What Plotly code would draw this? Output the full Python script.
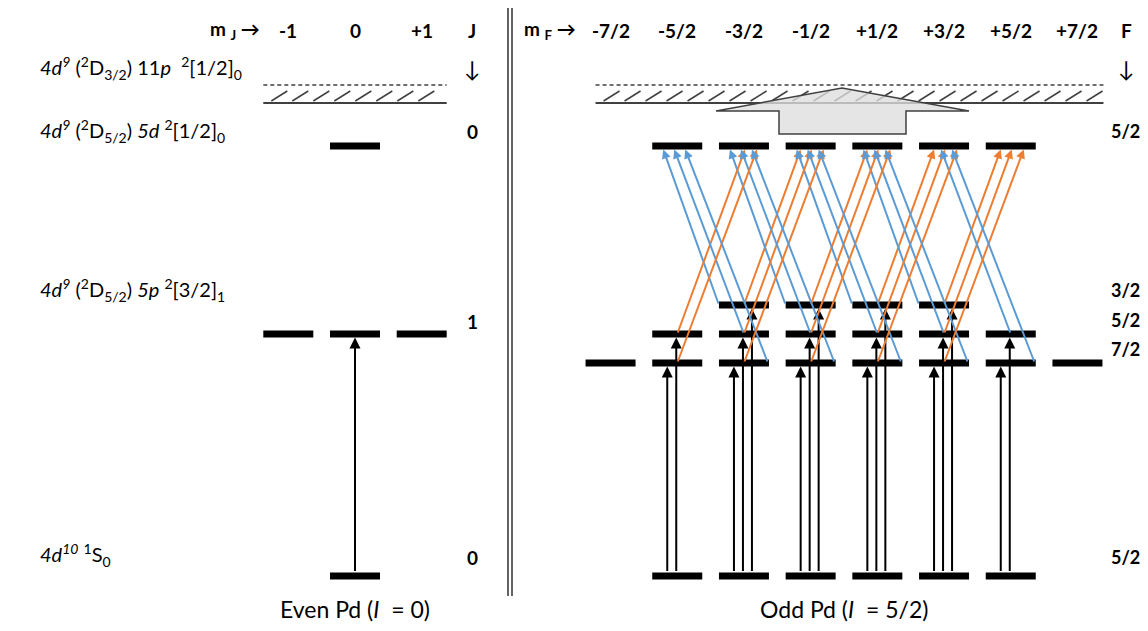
import numpy as np
import plotly.graph_objects as go

W_REF, H_REF = 1148, 631
OFF = 8                      # page body margin
W, H = W_REF - 2 * OFF, H_REF - 2 * OFF
SP = 66.7                    # pixels per unit of m
XE0, XO0 = 355.0, 844.0      # pixel position of m=0 (even / odd panel)

# ---------------- data ----------------
mJ_vals = [-1, 0, 1]
mJ_text = ["-1", "0", "+1"]
mF_vals = [-3.5, -2.5, -1.5, -0.5, 0.5, 1.5, 2.5, 3.5]
mF_text = ["-7/2", "-5/2", "-3/2", "-1/2", "+1/2", "+3/2", "+5/2", "+7/2"]

state_text = [
    "<i>4d</i><sup><i>9</i></sup> (<sup>2</sup>D<sub>3/2</sub>) 11<i>p</i>  <sup>2</sup>[1/2]<sub>0</sub>",
    "<i>4d</i><sup><i>9</i></sup> (<sup>2</sup>D<sub>5/2</sub>) <i>5d</i> <sup>2</sup>[1/2]<sub>0</sub>",
    "<i>4d</i><sup><i>9</i></sup> (<sup>2</sup>D<sub>5/2</sub>) <i>5p</i> <sup>2</sup>[3/2]<sub>1</sub>",
    "<i>4d</i><sup><i>10</i></sup> <sup>1</sup>S<sub>0</sub>",
]
state_y = [563, 500, 341, 76]

# even isotope levels
even_E = [485, 297, 55]
even_J = [0, 1, 0]
even_J_text = ["0", "1", "0"]
even_J_label_y = [500, 310, 74]

# odd isotope levels
odd_E = [485, 326, 297, 268, 55]
odd_F = [2.5, 1.5, 2.5, 3.5, 2.5]
odd_F_text = ["5/2", "3/2", "5/2", "7/2", "5/2"]
odd_F_label_y = [500, 341, 311, 282, 74]

E_limit = 528
E_dashed = 546
E_ground = 55
E_upper = 485
E_5p = {3.5: 268, 2.5: 297, 1.5: 326}

# ---------------- style constants ----------------
BAR_HALF = 25 / SP
BAR_T = 3.5
BLUE = "#5B9BD5"
ORANGE = "#ED7D31"
FONT = "Lato"
black_off = {3.5: -10, 2.5: -1, 1.5: 8}
blue_start = {3.5: 24, 2.5: 0, 1.5: -25}
blue_end = {3.5: 8, 2.5: -3, 1.5: -14}
orange_start = {3.5: 0, 2.5: 0, 1.5: 0}
orange_end = {3.5: 13, 2.5: 1, 1.5: -10}


def px(n):
    return n / SP


def paper_x(p):
    return (p - OFF) / W


def mrange(F):
    return [(-F + k) for k in range(int(round(2 * F)) + 1)]


fig = go.Figure()


def bars(E_list, Q_list):
    xs, ys = [], []
    for E, Q in zip(E_list, Q_list):
        for m in mrange(Q):
            xs += [m - BAR_HALF, m + BAR_HALF, None]
            ys += [E, E, None]
    return xs, ys


xe, ye = bars(even_E, even_J)
fig.add_trace(go.Scatter(x=xe, y=ye, mode="lines", line=dict(color="black", width=7),
                         xaxis="x", yaxis="y", hoverinfo="skip", showlegend=False))
xo, yo = bars(odd_E, odd_F)
fig.add_trace(go.Scatter(x=xo, y=yo, mode="lines", line=dict(color="black", width=7),
                         xaxis="x2", yaxis="y", hoverinfo="skip", showlegend=False))


def limit(ax, x_lo, x_hi):
    fig.add_trace(go.Scatter(x=[x_lo, x_hi], y=[E_dashed, E_dashed], mode="lines",
                             line=dict(color="#404040", width=1.5, dash="4px,3px"),
                             xaxis=ax, yaxis="y", hoverinfo="skip", showlegend=False))
    hx, hy = [], []
    for s in np.arange(x_lo + px(8), x_hi - px(16), px(21)):
        hx += [s, s + px(16), None]
        hy += [E_limit + 2, E_limit + 12, None]
    fig.add_trace(go.Scatter(x=hx, y=hy, mode="lines", line=dict(color="#404040", width=1.5),
                             xaxis=ax, yaxis="y", hoverinfo="skip", showlegend=False))
    fig.add_trace(go.Scatter(x=[x_lo, x_hi], y=[E_limit, E_limit], mode="lines",
                             line=dict(color="#404040", width=2),
                             xaxis=ax, yaxis="y", hoverinfo="skip", showlegend=False))


limit("x", -1 - BAR_HALF, 1 + BAR_HALF)
limit("x2", -3.5 - px(15), 3.5 + px(26))

# big ionising arrow
ax_pts = [-128, -2, 125, 62, 62, -65, -65, -128]
ay_pts = [520, 543, 520, 520, 497, 497, 520, 520]
fig.add_trace(go.Scatter(x=[px(v) for v in ax_pts], y=ay_pts, mode="lines", fill="toself",
                         fillcolor="rgba(222,222,222,0.78)", line=dict(color="#404040", width=1.5),
                         xaxis="x2", yaxis="y", hoverinfo="skip", showlegend=False))

ann = []


def arrow(xref, x0, y0, x1, y1, color, width=2, size=1.0):
    ann.append(dict(x=x1, y=y1, ax=x0, ay=y0, xref=xref, yref="y", axref=xref, ayref="y",
                    text="", showarrow=True, arrowhead=2, arrowsize=size, arrowwidth=width,
                    arrowcolor=color, standoff=0, startstandoff=0))


# even excitation
arrow("x", 0, E_ground + BAR_T, 0, even_E[1] - BAR_T, "black", 2, 1.1)

# odd excitation (dmF = 0)
for m in mrange(2.5):
    for Fp in [3.5, 2.5, 1.5]:
        if abs(m) <= Fp:
            x = m + px(black_off[Fp])
            arrow("x2", x, E_ground + BAR_T, x, E_5p[Fp] - BAR_T, "black", 2, 1.1)

# second step: sigma- (blue), sigma+ (orange)
for Fp in [1.5, 2.5, 3.5]:
    for m in mrange(Fp):
        if abs(m) > 2.5:
            continue
        if m - 1 >= -2.5:
            arrow("x2", m + px(blue_start[Fp]), E_5p[Fp], m - 1 + px(blue_end[Fp]),
                  E_upper - BAR_T, BLUE, 2, 0.9)
        if m + 1 <= 2.5:
            arrow("x2", m + px(orange_start[Fp]), E_5p[Fp], m + 1 + px(orange_end[Fp]),
                  E_upper - BAR_T, ORANGE, 2, 0.9)


def txt(x, y, t, xref="paper", size=19, bold=False, xanchor="center"):
    ann.append(dict(x=x, y=y, xref=xref, yref="y", text=("<b>%s</b>" % t) if bold else t,
                    showarrow=False, xanchor=xanchor, yanchor="middle",
                    font=dict(family=FONT, size=size, color="black")))


for t, y in zip(state_text, state_y):
    txt(paper_x(38), y, t, size=20, xanchor="left")

HEAD_Y = 601
txt(paper_x(235), HEAD_Y, "m <sub>J</sub> \u2192", bold=True)
for v, t in zip(mJ_vals, mJ_text):
    txt(v, HEAD_Y, t, xref="x", bold=True)
txt(paper_x(472), HEAD_Y, "J", bold=True)
txt(paper_x(472), 563, "\u2193", size=22)
for t, y in zip(even_J_text, even_J_label_y):
    txt(paper_x(472), y, t, bold=True)

txt(paper_x(550), HEAD_Y, "m <sub>F</sub> \u2192", bold=True)
for v, t in zip(mF_vals, mF_text):
    txt(v, HEAD_Y, t, xref="x2", bold=True)
txt(paper_x(1126), HEAD_Y, "F", bold=True)
txt(paper_x(1126), 563, "\u2193", size=22)
for t, y in zip(odd_F_text, odd_F_label_y):
    txt(paper_x(1125), y, t, size=18, bold=True)

txt(0, 22, "Even Pd (<i>I</i>  = 0)", xref="x", size=23)
txt(0, 22, "Odd Pd (<i>I</i>  = 5/2)", xref="x2", size=23)

shapes = []
for xp in [508, 512]:
    shapes.append(dict(type="line", xref="paper", yref="y", x0=paper_x(xp), x1=paper_x(xp),
                       y0=H_REF - 596, y1=H_REF - 8, line=dict(color="#303030", width=1.5)))

fig.update_layout(
    width=W, height=H, margin=dict(l=0, r=0, t=0, b=0),
    paper_bgcolor="white", plot_bgcolor="white",
    xaxis=dict(range=[(OFF - XE0) / SP, (OFF + W - XE0) / SP], visible=False,
               domain=[0, 1], fixedrange=True),
    xaxis2=dict(range=[(OFF - XO0) / SP, (OFF + W - XO0) / SP], visible=False,
                overlaying="x", anchor="y", fixedrange=True),
    yaxis=dict(range=[OFF, OFF + H], visible=False, fixedrange=True),
    annotations=ann, shapes=shapes, showlegend=False,
)

fig.write_html("out.html")
